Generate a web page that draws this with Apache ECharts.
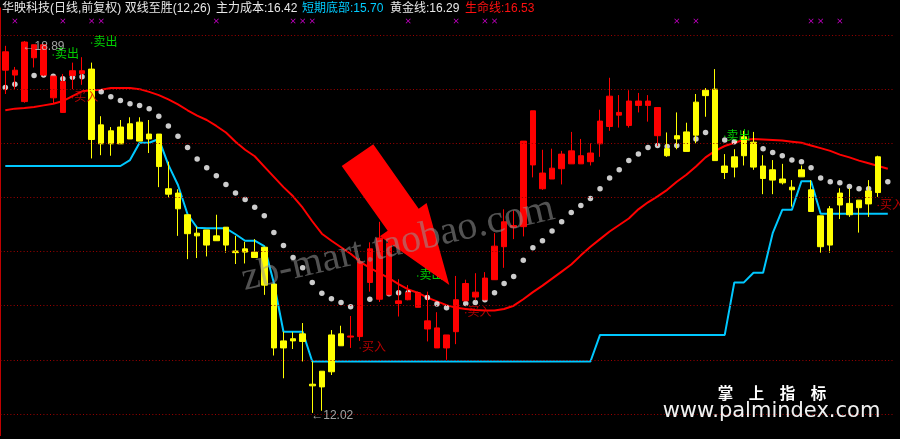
<!DOCTYPE html>
<html><head><meta charset="utf-8">
<script src="https://cdn.jsdelivr.net/npm/echarts@6/dist/echarts.min.js"></script>
<style>html,body{margin:0;padding:0;background:#000;}#c{width:900px;height:439px;}</style>
</head><body><div id="c"></div>
<script>
// ---- candle values (price) ----
const openP = [18.35,18.26,17.77,18.58,18.26,17.84,17.57,18.25,18.29,17.07,
16.99,16.99,16.99,17.08,17.04,17.08,16.57,16.06,15.79,15.33,
15.29,15.12,15.20,15.12,14.98,14.99,14.89,14.38,13.22,13.22,
13.35,13.34,12.52,12.50,12.78,13.26,13.42,13.43,14.43,14.12,
14.20,14.04,14.11,13.97,13.57,13.22,13.22,13.52,14.09,14.16,
14.11,14.48,15.09,15.45,15.46,16.60,16.16,16.34,16.53,16.62,
16.62,16.66,16.99,17.31,17.52,17.33,17.70,17.70,17.14,16.77,
17.08,16.85,17.15,17.88,16.68,16.46,16.56,16.77,16.56,16.35,
16.32,16.27,16.14,16.38,15.74,15.09,15.12,15.86,15.68,15.81,
15.88,16.09];
const closeP = [18.69,18.35,18.87,18.82,18.82,18.24,18.14,18.34,18.34,18.37,
17.34,17.23,17.30,17.36,17.39,17.17,17.17,16.16,16.08,15.68,
15.34,15.40,15.29,15.45,15.01,15.05,14.99,15.08,14.40,13.35,
13.39,13.48,12.55,12.79,13.46,13.48,13.44,14.81,15.05,15.25,
15.15,14.09,14.24,14.24,13.72,13.59,13.46,14.11,14.41,14.25,
14.51,15.10,15.55,15.48,17.04,17.60,16.45,16.54,16.80,16.86,
16.77,16.82,17.41,17.87,17.57,17.78,17.78,17.78,17.66,16.90,
17.14,17.21,17.76,17.98,18.00,16.58,16.75,17.12,17.02,16.58,
16.51,16.34,16.19,16.51,16.14,15.66,15.79,16.08,15.89,15.95,
16.12,16.75];
const lowP = [17.91,18.00,17.75,18.40,18.24,17.74,17.56,18.00,18.08,16.72,
16.78,16.77,16.99,17.08,17.04,16.82,16.19,16.00,15.29,14.86,
14.88,14.91,15.20,14.98,14.77,14.78,14.89,14.20,13.08,12.66,
13.20,12.97,12.02,12.06,12.72,13.26,13.22,13.35,14.26,14.07,
14.20,13.80,14.10,13.97,13.34,13.22,13.00,13.29,14.09,14.10,
14.10,14.48,14.70,15.23,15.28,16.37,16.14,16.34,16.24,16.62,
16.62,16.59,16.75,17.23,17.29,17.29,17.57,17.40,16.95,16.75,
16.89,16.85,17.00,17.49,16.68,16.34,16.37,16.59,16.51,16.06,
16.06,16.24,15.83,16.38,15.74,14.98,14.98,15.60,15.64,15.35,
15.64,16.01];
const highP = [18.80,18.41,18.89,18.82,18.83,18.24,18.28,18.49,18.59,18.49,
17.50,17.30,17.43,17.48,17.48,17.43,17.17,16.66,16.15,15.68,
15.46,15.40,15.68,15.45,15.29,15.18,15.23,15.08,14.40,13.52,
13.51,13.68,12.97,12.79,13.55,13.63,13.81,14.88,15.17,15.55,
15.21,14.49,14.38,14.26,14.26,13.88,13.46,14.55,14.48,14.60,
14.62,15.34,15.78,15.76,17.04,17.60,16.88,16.90,16.86,17.21,
17.08,17.00,17.62,18.21,17.89,17.98,17.93,17.89,17.66,17.20,
17.57,17.38,17.91,18.02,18.37,16.80,16.89,17.23,17.21,16.78,
16.69,16.62,16.32,16.59,16.32,15.66,15.84,16.17,16.17,15.95,
16.32,16.77];
// candle colour phase: R = red, Y = yellow
const phase = 'RRRRRRRRR' + 'YYYYYYYYYYYYYYYYYYYYYYYYYYY' +
  'RRRRRRRRRRRRRRRRRRRRRRRRRRRRRRRRR' + 'YYYYYYYYYYYYYYYYYYYYYYY';

// ---- indicator lines (one value per bar slot, 93 slots) ----
const lifeLine = [17.61,17.64,17.65,17.67,17.70,17.73,17.78,17.87,17.96,17.98,
17.99,18.02,18.02,18.02,18.00,17.95,17.89,17.81,17.72,17.61,
17.51,17.43,17.32,17.20,17.03,16.88,16.76,16.57,16.38,16.19,
16.02,15.81,15.56,15.33,15.20,15.08,14.96,14.81,14.70,14.60,
14.51,14.40,14.30,14.24,14.15,14.08,14.01,13.96,13.94,13.92,
13.91,13.91,13.94,14.00,14.12,14.25,14.37,14.50,14.63,14.76,
14.93,15.09,15.23,15.37,15.49,15.61,15.78,15.91,16.02,16.14,
16.29,16.42,16.57,16.74,16.86,16.95,17.01,17.06,17.08,17.07,
17.06,17.05,17.03,17.01,16.96,16.91,16.86,16.79,16.74,16.68,
16.63,16.58,16.53];
const goldLine = [18.03,18.09,18.17,18.25,18.26,18.24,18.19,18.22,18.23,18.11,
17.95,17.86,17.79,17.73,17.70,17.64,17.50,17.32,17.13,16.92,
16.71,16.55,16.40,16.24,16.08,15.96,15.82,15.66,15.35,15.11,
14.89,14.70,14.43,14.23,14.13,14.06,13.98,14.05,14.12,14.18,
14.22,14.24,14.24,14.20,14.15,14.03,13.96,13.99,14.04,14.06,
14.11,14.24,14.41,14.54,14.84,15.07,15.20,15.38,15.55,15.72,
15.85,15.98,16.16,16.36,16.51,16.68,16.80,16.92,16.96,16.94,
16.96,17.02,17.08,17.20,17.13,17.06,17.03,16.97,16.93,16.90,
16.83,16.77,16.69,16.66,16.55,16.36,16.29,16.27,16.20,16.16,
16.16,16.23,16.29];
const bottomLine = [16.58,16.58,16.58,16.58,16.58,16.58,16.58,16.58,16.58,16.58,
16.58,16.58,16.58,16.69,17.01,17.01,17.08,16.60,16.23,15.69,
15.44,15.43,15.43,15.43,15.32,15.20,15.20,15.10,14.42,13.52,
13.52,13.52,12.97,12.97,12.97,12.97,12.97,12.97,12.97,12.97,
12.97,12.97,12.97,12.97,12.97,12.97,12.97,12.97,12.97,12.97,
12.97,12.97,12.97,12.97,12.97,12.97,12.97,12.97,12.97,12.97,
12.97,12.97,13.46,13.46,13.46,13.46,13.46,13.46,13.46,13.46,
13.46,13.46,13.46,13.46,13.46,13.46,14.43,14.43,14.61,14.61,
15.34,15.77,15.77,16.30,16.30,15.70,15.70,15.70,15.70,15.70,
15.70,15.70,15.70];

// ---- markers ----
const crossIdx = [1,6,9,10,22,30,31,32,42,47,50,51,70,72,84,85,87];
const crossLevel = 19.26;
const sellPts = [[9,18.85],[5,18.63],[43,14.55],[75,17.13]];
const buyPts = [[7,17.84],[37,13.22],[48,13.87],[91,15.85]];
const highMark = [2, 18.89];
const lowMark = [32, 12.02];

// ---- price grid levels and texts ----
const gridLevels = [12,13,14,15,16,17,18,19];
const yRange = {min:11.6, max:19.5};
const headerTexts = [
  {t:'华映科技(日线,前复权) 双线至胜(12,26)', x:2, c:'#e8e8e8'},
  {t:'主力成本:16.42', x:216, c:'#e8e8e8'},
  {t:'短期底部:15.70', x:302, c:'#00ccff'},
  {t:'黄金线:16.29', x:390, c:'#e8e8e8'},
  {t:'生命线:16.53', x:465, c:'#ff1010'}
];

const barSlots = lifeLine.map((_, i) => String(i));
const redData = openP.map((o, i) => phase[i] === 'R' ? [o, closeP[i], lowP[i], highP[i]] : '-');
const yelData = openP.map((o, i) => phase[i] === 'Y' ? [o, closeP[i], lowP[i], highP[i]] : '-');

const FONT = '"Liberation Sans","Noto Sans CJK SC",sans-serif';
const chart = echarts.init(document.getElementById('c'), null, {renderer:'canvas'});

const candleStyle = c => ({color:c, color0:c, borderColor:c, borderColor0:c, borderWidth:1});

chart.setOption({
  backgroundColor:'#000',
  animation:false,
  grid:{left:0.5, right:7.4, top:7.93, bottom:3.36},
  xAxis:{type:'category', data:barSlots, boundaryGap:true, show:false},
  yAxis:{type:'value', min:yRange.min, max:yRange.max,
    axisLabel:{show:false}, axisTick:{show:false},
    axisLine:{show:true, lineStyle:{color:'#c00000', width:1}},
    splitLine:{show:false}},
  series:[
    {type:'line', data:bottomLine, symbol:'none', lineStyle:{color:'#00c8ff', width:2}, z:2, silent:true,
     markLine:{silent:true, symbol:'none', label:{show:false},
       lineStyle:{color:'#a00000', type:[1,2.3], width:1},
       data:gridLevels.map(v => ({yAxis:v}))}},
    {type:'line', data:lifeLine, symbol:'none', lineStyle:{color:'#ff0000', width:2}, z:2, silent:true},
    {type:'scatter', data:goldLine, symbol:'circle', symbolSize:5.5, itemStyle:{color:'#ffffff'}, z:2, silent:true},
    {type:'candlestick', data:redData, barWidth:6, itemStyle:candleStyle('#ff0000'), z:3, silent:true},
    {type:'candlestick', data:yelData, barWidth:6, itemStyle:candleStyle('#ffff00'), z:3, silent:true},
    {type:'scatter', data:crossIdx.map(i => [i, crossLevel]), symbolSize:5,
     symbol:'path://M0,1L1,0L5,4L9,0L10,1L6,5L10,9L9,10L5,6L1,10L0,9L4,5Z',
     itemStyle:{color:'#ff00ff'}, z:4, silent:true},
    {type:'scatter', data:sellPts, symbol:'circle', symbolSize:1.5, itemStyle:{color:'#00ff00'}, z:6, silent:true,
     label:{show:true, position:'right', distance:1, formatter:'卖出', color:'#00ff00', fontSize:12, fontFamily:FONT}},
    {type:'scatter', data:buyPts, symbol:'circle', symbolSize:1.5, itemStyle:{color:'#e00000'}, z:6, silent:true,
     label:{show:true, position:'right', distance:1, formatter:'买入', color:'#e00000', fontSize:12, fontFamily:FONT}},
    {type:'scatter', data:[highMark], symbolSize:0, z:6, silent:true,
     label:{show:true, position:'right', distance:0, offset:[-2,6], formatter:p => '←' + p.value[1].toFixed(2), color:'#c8c8c8', fontSize:12, fontFamily:FONT}},
    {type:'scatter', data:[lowMark], symbolSize:0, z:6, silent:true,
     label:{show:true, position:'right', distance:0, offset:[-1,3], formatter:p => '←' + p.value[1].toFixed(2), color:'#c8c8c8', fontSize:12, fontFamily:FONT}}
  ],
  graphic:[
    ...headerTexts.map(h => ({type:'text', x:h.x, y:9, z:50,
      style:{text:h.t, fill:h.c, font:'12px ' + FONT, align:'left', verticalAlign:'middle'}})),
    {type:'polygon', z:40, shape:{points:[[341.7,166],[373.3,144.3],[418.7,208.7],[426.6,203.1],[449.3,285],[379.8,236.3],[387.7,230.7]]},
     style:{fill:'#ff0000'}},
    {type:'text', x:398, y:244, rotation:0.225, z:45,
     style:{text:'zb-mart.taobao.com', fill:'rgba(150,150,150,0.55)', font:'40px "Liberation Serif","DejaVu Serif",serif', align:'center', verticalAlign:'middle'}},
    {type:'text', x:772, y:393, z:50,
     style:{text:'掌\u3000上\u3000指\u3000标', fill:'#ffffff', font:'bold 15.5px "Noto Sans CJK SC",sans-serif', align:'center', verticalAlign:'middle'}},
    {type:'text', x:771.5, y:412, z:50,
     style:{text:'www.palmindex.com', fill:'#f0f0f0', font:'21px "DejaVu Sans",sans-serif', align:'center', verticalAlign:'middle'}}
  ]
});
</script></body></html>
